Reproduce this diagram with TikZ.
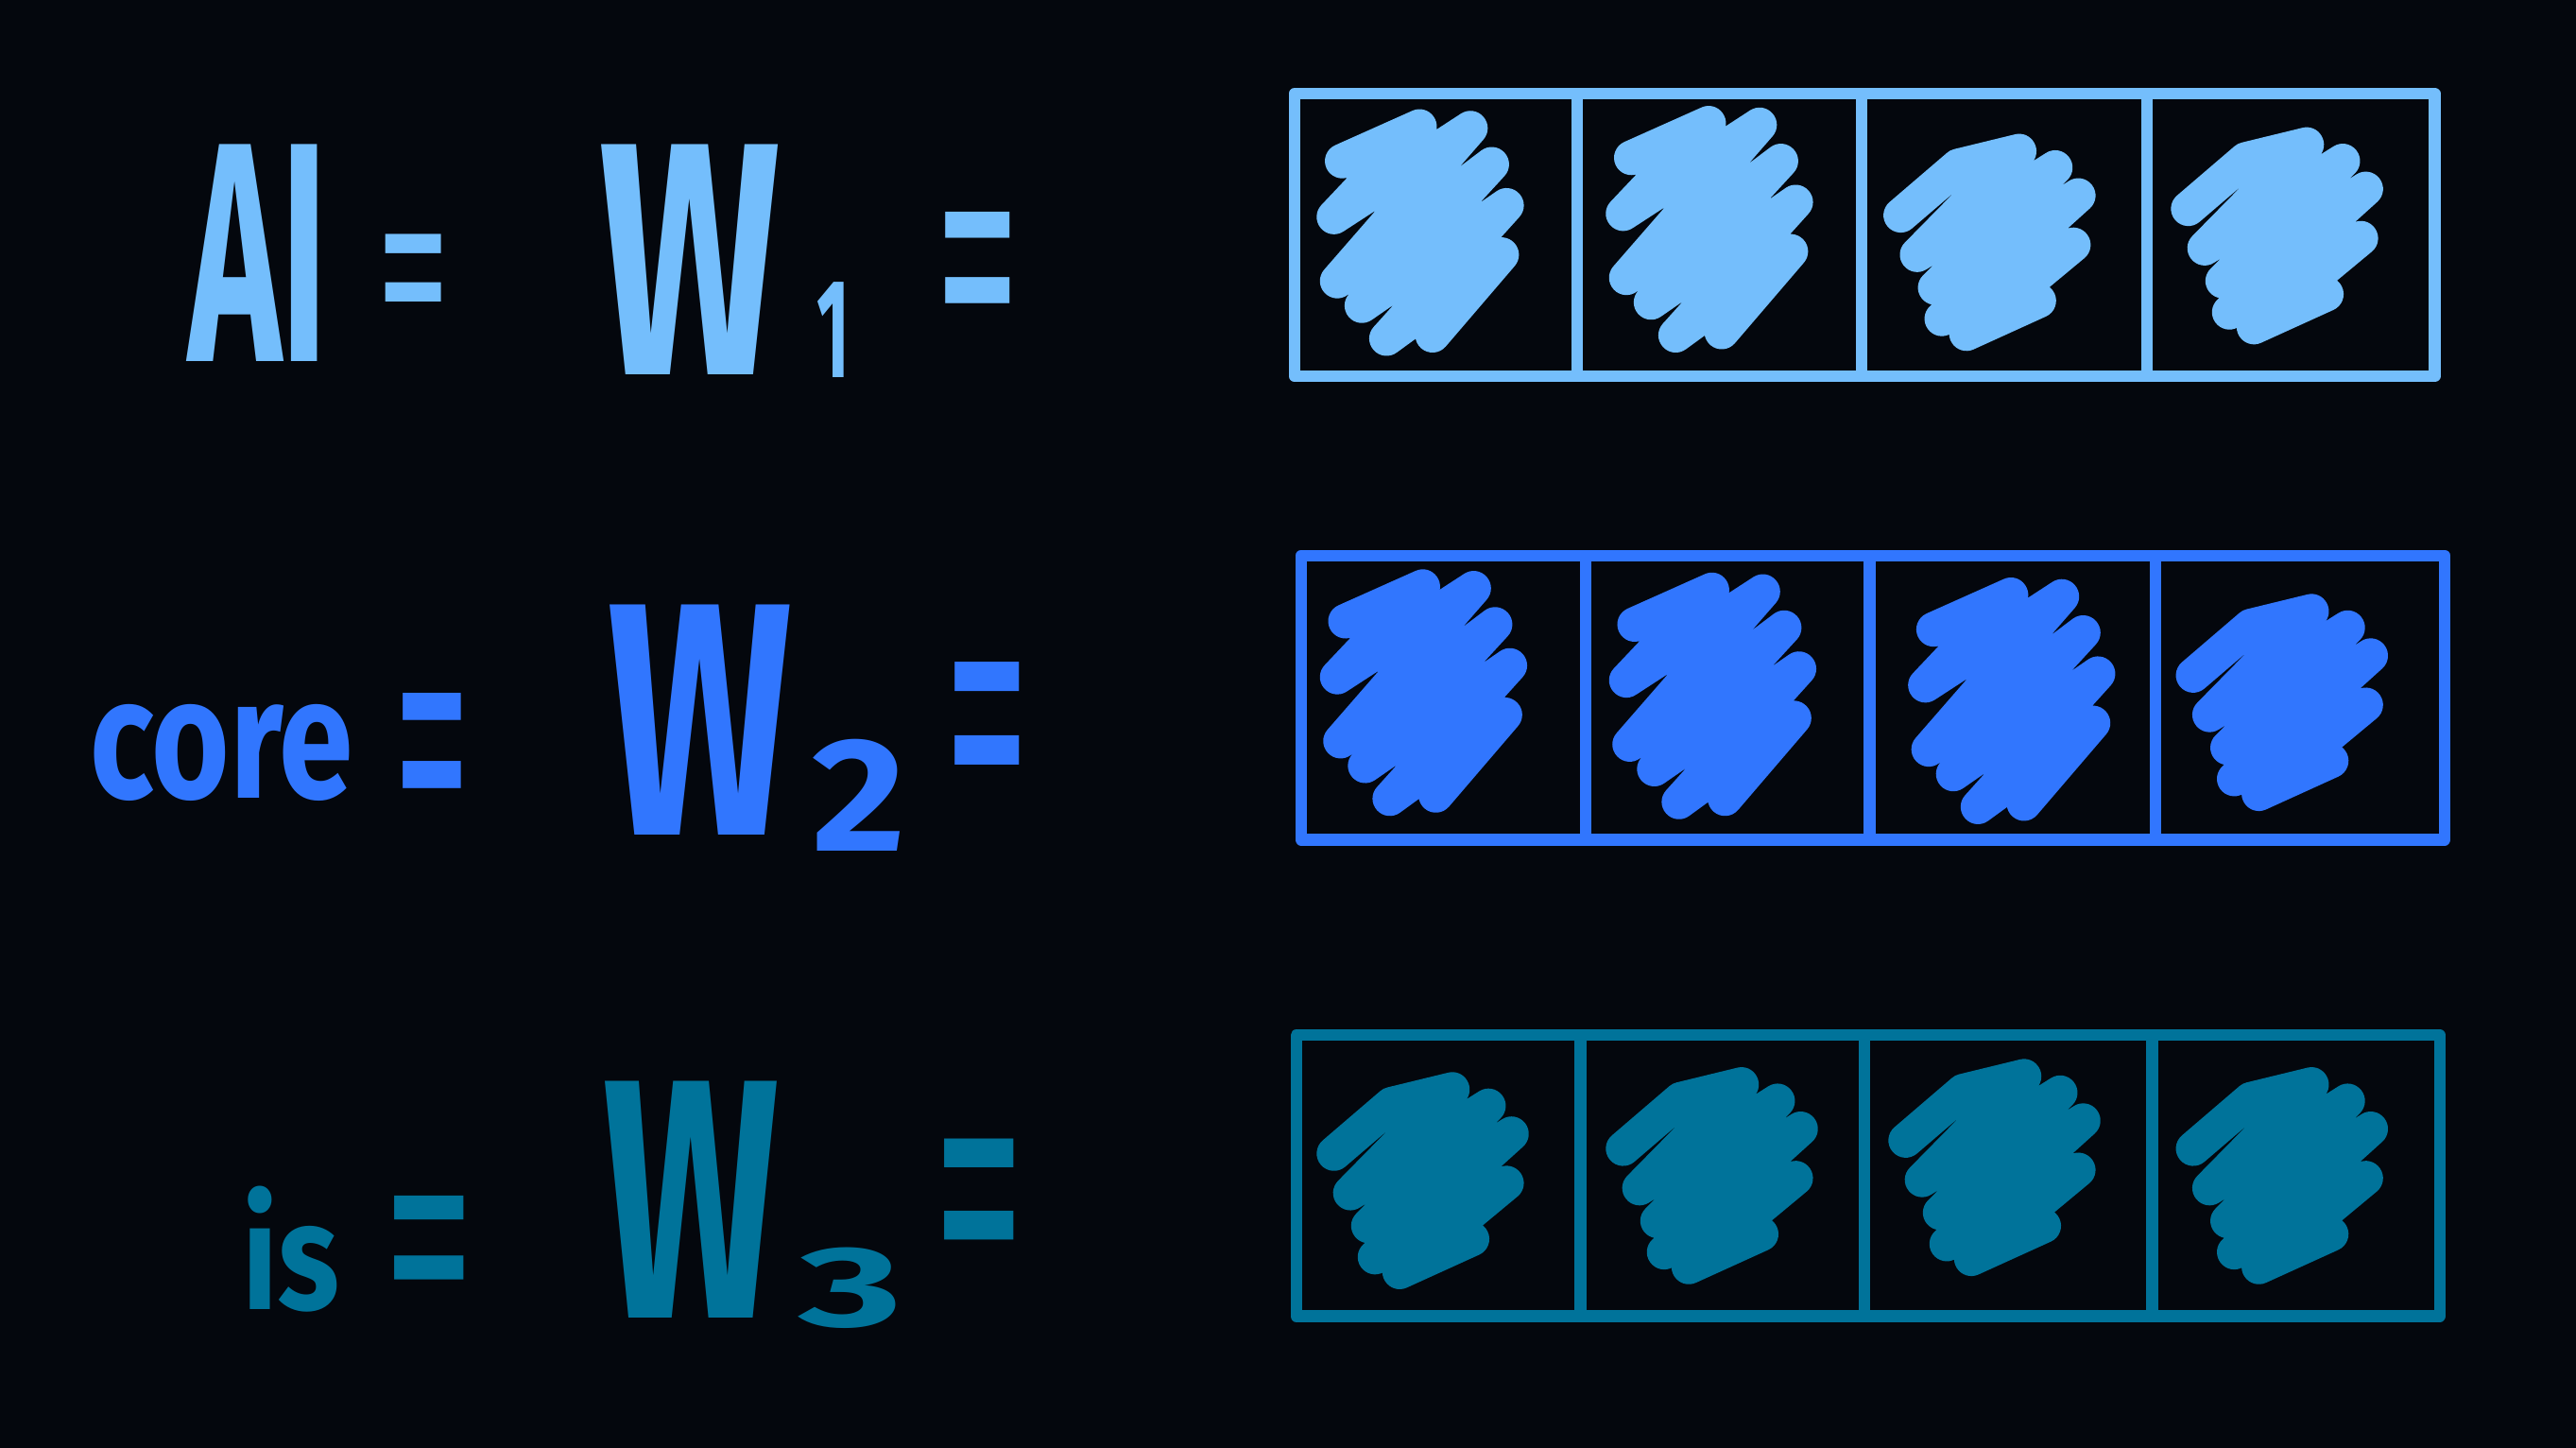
\documentclass[tikz,border=0pt]{standalone}
\usepackage{fontspec}
\setmainfont{Fira Sans}
\usepackage{graphicx}
\definecolor{bgc}{HTML}{04070D}
\definecolor{ca}{HTML}{74BEFC}
\definecolor{cb}{HTML}{3176FE}
\definecolor{cc}{HTML}{00739A}
\tikzset{
  boxline/.style={line width=2pt, line join=round},
  scribline/.style={line width=6pt, line cap=round, line join=round},
  txt/.style={inner sep=0pt, font=\bfseries},
  eqtxt/.style={inner sep=0pt, font=\mdseries},
  scribA/.pic={\draw[scribline] (27,38) -- (74,17) -- (22,72) -- (105,18) -- (24,111) -- (118,40) -- (39,126) -- (127,65) -- (54,146) -- (124,95) -- (82,144);},
  scribB/.pic={\draw[scribline] (20,69) -- (55,39) -- (92,30) -- (30,93) -- (114,40) -- (41,113) -- (128,57) -- (45,132) -- (125,87) -- (60,141) -- (104,121);}
}
\begin{document}
\begin{tikzpicture}[x=0.01cm,y=-0.01cm]
\fill[bgc] (0,0) rectangle (1568,881);
\useasboundingbox (0,0) rectangle (1568,881);

% ---------- row 1
\begin{scope}[color=ca]
\draw[boxline] (788,57) rectangle (1482,229);
\foreach \x in {960,1133,1307} \draw[boxline] (\x,57) -- (\x,229);
\pic at (790,60) {scribA};
\pic at (966,58) {scribA};
\pic at (1137,62) {scribB};
\pic at (1312,58) {scribB};
\node[txt] (ai) at (157,154) {\resizebox{0.85cm}{1.32cm}{AI}};
\node[eqtxt] (eq1a) at (252,178) {\resizebox{0.45cm}{0.71cm}{=}};
\node[txt] (w1) at (420,158) {\resizebox{1.1cm}{1.4cm}{W}};
\node[txt] (s1) at (507,201) {\resizebox{0.2cm}{0.58cm}{1}};
\node[eqtxt] (eq1b) at (595,177) {\resizebox{0.52cm}{0.96cm}{=}};
\end{scope}

% ---------- row 2
\begin{scope}[color=cb]
\draw[boxline] (792,338) rectangle (1488,511);
\foreach \x in {965,1138,1312} \draw[boxline] (\x,338) -- (\x,511);
\pic at (792,340) {scribA};
\pic at (968,342) {scribA};
\pic at (1150,345) {scribA};
\pic at (1315,342) {scribB};
\node[txt] (core) at (135,458) {\resizebox{1.6cm}{0.57cm}{core}};
\node[eqtxt] (eq2a) at (263,472) {\resizebox{0.47cm}{1.0cm}{=}};
\node[txt] (w2) at (426,438) {\resizebox{1.12cm}{1.4cm}{W}};
\node[txt] (s2) at (523,484) {\resizebox{0.57cm}{0.68cm}{2}};
\node[eqtxt] (eq2b) at (601,457) {\resizebox{0.52cm}{1.08cm}{=}};
\end{scope}

% ---------- row 3
\begin{scope}[color=cc]
\draw[boxline] (789,630) rectangle (1485,801);
\foreach \x in {962,1135,1310} \draw[boxline] (\x,630) -- (\x,801);
\pic at (792,633) {scribB};
\pic at (968,630) {scribB};
\pic at (1140,625) {scribB};
\pic at (1315,630) {scribB};
\node[txt] (is) at (177,760) {\resizebox{0.59cm}{0.75cm}{is}};
\node[eqtxt] (eq3a) at (261,772) {\resizebox{0.56cm}{0.88cm}{=}};
\node[txt] (w3) at (421,730) {\resizebox{1.07cm}{1.44cm}{W}};
\node[txt] (s3) at (518,784) {\resizebox{0.63cm}{0.48cm}{3}};
\node[eqtxt] (eq3b) at (596,746) {\resizebox{0.56cm}{1.06cm}{=}};
\end{scope}
\end{tikzpicture}
\end{document}
